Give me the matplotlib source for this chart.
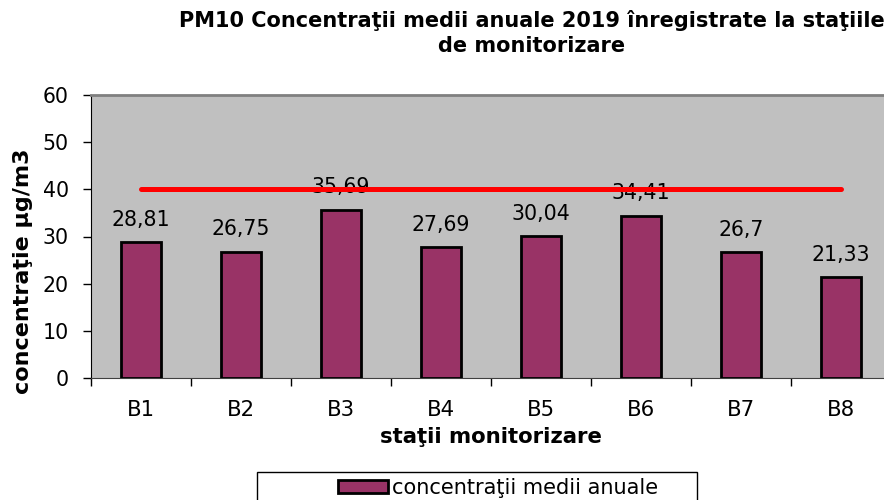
import numpy as np
import matplotlib
matplotlib.use('Agg')
import matplotlib.pyplot as plt
from matplotlib.patches import Rectangle

# data
stations = ['B1', 'B2', 'B3', 'B4', 'B5', 'B6', 'B7', 'B8']
values = [28.81, 26.75, 35.69, 27.69, 30.04, 34.41, 26.7, 21.33]
value_labels = ['28,81', '26,75', '35,69', '27,69', '30,04', '34,41', '26,7', '21,33']
limit = [40] * len(stations)
yticks = [0, 10, 20, 30, 40, 50, 60]

plt.rcParams['font.family'] = ['DejaVu Sans']

W, H = 884, 500
fig = plt.figure(figsize=(W / 100, H / 100), dpi=100)
ax = fig.add_axes([91 / W, 1 - 378 / H, 800 / W, (378 - 95) / H])
ax.set_facecolor('#C0C0C0')

x = np.arange(len(stations))
ax.bar(x, values, width=0.4, color='#993366', edgecolor='black', linewidth=2, zorder=3,
       label='concentraţii medii anuale')
ax.plot(x, limit, color='#FF0000', linewidth=3.6, solid_capstyle='round', zorder=6)

for xi, v, lab in zip(x, values, value_labels):
    ax.annotate(lab, (xi, v), xytext=(0, 9), textcoords='offset points',
                ha='center', va='bottom', fontsize=14.8, zorder=5)

ax.set_xlim(-0.5, len(stations) - 0.5)
ax.set_ylim(0, 60)
ax.set_yticks(yticks)
ax.set_yticklabels([str(t) for t in yticks], fontsize=14.8)
ax.tick_params(axis='y', direction='out', length=6, width=1, pad=10)

# category labels centered, tick marks on the boundaries
ax.set_xticks(x)
ax.set_xticklabels(stations, fontsize=15.3)
ax.tick_params(axis='x', which='major', length=0, pad=16)
ax.set_xticks(np.arange(-0.5, len(stations), 1), minor=True)
ax.tick_params(axis='x', which='minor', direction='out', length=6, width=1)

ax.spines['left'].set_color('black')
ax.spines['bottom'].set_color('#404040')
ax.spines['top'].set_color('#808080')
ax.spines['top'].set_linewidth(2)
ax.spines['right'].set_visible(False)

ax.set_ylabel('concentraţie µg/m3', fontsize=16, fontweight='bold')
ax.yaxis.set_label_coords((33 - 91) / 800, (378 - 271) / 283)
ax.set_xlabel('staţii monitorizare', fontsize=15.3, fontweight='bold', labelpad=5)

fig.text(532 / W, 1 - 33 / H, 'PM10 Concentraţii medii anuale 2019 înregistrate la staţiile\nde monitorizare',
         ha='center', va='center', fontsize=15, fontweight='bold', linespacing=1.3)

# legend box, cut by the bottom edge as in the reference
fig.patches.append(Rectangle((257 / W, -0.05), 440 / W, 0.05 + 1 - 472 / H,
                             transform=fig.transFigure, facecolor='white',
                             edgecolor='black', linewidth=1))
fig.legend(loc='center', bbox_to_anchor=(498 / W, 1 - 488 / H), frameon=False,
           fontsize=15, handlelength=2.4, handleheight=0.6, handletextpad=0.2)

plt.savefig('out.png', dpi=100)
